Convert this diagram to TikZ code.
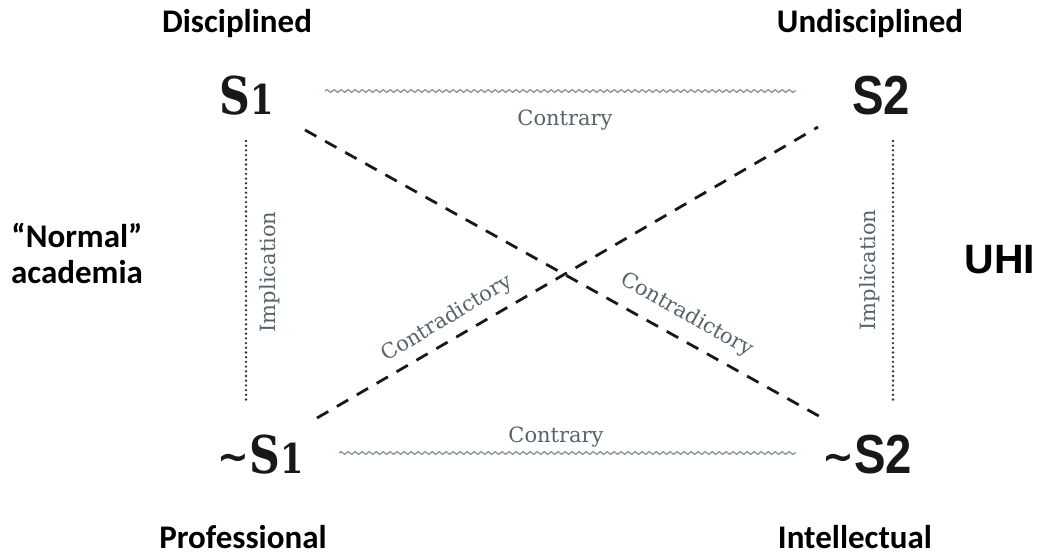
\documentclass[tikz,border=0pt]{standalone}
\usepackage{fontspec}
\setmainfont{DejaVu Serif}
\newfontfamily\headfont{Carlito}
\newfontfamily\slabfont{DejaVu Serif}
\newfontfamily\grotfont{Liberation Sans}
\newfontfamily\tildefont{DejaVu Sans}
\usetikzlibrary{decorations.pathmorphing}
\definecolor{labelgrey}{HTML}{56646A}
\definecolor{wavegrey}{HTML}{85979B}
\definecolor{inkdark}{HTML}{181818}
% condensed renderings of the term letters
\newcommand{\slabterm}[1]{\scalebox{0.82}[1]{\slabfont\bfseries\fontsize{52}{52}\selectfont S}%
  \scalebox{0.82}[1]{\slabfont\bfseries\fontsize{41}{41}\selectfont #1}}
\newcommand{\grotterm}[1]{\scalebox{0.86}[1]{\grotfont\bfseries\fontsize{55}{55}\selectfont S#1}}
\newcommand{\negmark}{\raisebox{0.25em}{\scalebox{0.95}[1]{\tildefont\bfseries\fontsize{40}{40}\selectfont\char`\~}}}
\tikzset{
  heading/.style={font=\headfont\bfseries\fontsize{33}{38}\selectfont, text=black, inner sep=0pt, anchor=base},
  term/.style={text=inkdark, inner sep=0pt, anchor=base},
  rel/.style={font=\slabfont\fontsize{21}{22}\selectfont, text=labelgrey, inner sep=0pt},
  contrary/.style={draw=wavegrey, line width=1.3pt, decorate,
    decoration={snake, amplitude=1.4pt, segment length=7pt}},
  implication/.style={draw=inkdark!90, line width=2.6pt, line cap=round,
    dash pattern=on 0pt off 4.7pt},
  contradiction/.style={draw=inkdark, line width=2.8pt, dash pattern=on 13pt off 10pt}
}
\begin{document}
\begin{tikzpicture}[x=1pt, y=-1pt]
  \useasboundingbox (0,0) rectangle (1038,556);

  % corner terms of the square
  \node[term] (S1)  at (247,115) {\slabterm{1}};
  \node[term] (S2)  at (881,115) {\grotterm{2}};
  \node[term] (nS1) at (261,473) {\negmark\slabterm{1}};
  \node[term] (nS2) at (867,473) {\negmark\grotterm{2}};

  % headings
  \node[heading] (disc)   at (237,33)  {Disciplined};
  \node[heading] (undisc) at (870,33)  {Undisciplined};
  \node[heading] (prof)   at (243,548) {Professional};
  \node[heading] (intel)  at (855,548) {Intellectual};
  \node[heading] (normal) at (77,247)  {“Normal”};
  \node[heading] (acad)   at (77,283)  {academia};
  \node[font=\grotfont\bfseries\fontsize{41}{42}\selectfont, inner sep=0pt, anchor=base] (uhi) at (1000,273) {UHI};

  % contrary relations
  \coordinate (ct1) at (325,91);  \coordinate (ct2) at (796,91);
  \coordinate (cb1) at (339,453); \coordinate (cb2) at (796,453);
  \path[contrary] (ct1) -- (ct2);
  \path[contrary] (cb1) -- (cb2);
  \node[rel, anchor=base] (contraryT) at (565,126) {Contrary};
  \node[rel, anchor=base] (contraryB) at (556,442) {Contrary};

  % implication relations
  \coordinate (il1) at (246,141); \coordinate (il2) at (246,401);
  \coordinate (ir1) at (893,141); \coordinate (ir2) at (893,401);
  \path[implication] (il1) -- (il2);
  \path[implication] (ir1) -- (ir2);
  \node[rel, rotate=90] (implL) at (270,272) {Implication};
  \node[rel, rotate=90] (implR) at (870,270) {Implication};

  % contradictory relations
  \coordinate (dA1) at (305,130); \coordinate (dA2) at (826,420);
  \coordinate (dB1) at (818,127); \coordinate (dB2) at (317,418);
  \path[contradiction] (dA1) -- (dA2);
  \path[contradiction] (dB2) -- (dB1);
  \node[rel, rotate=31]  (contraL) at (447,319) {Contradictory};
  \node[rel, rotate=-29.5] (contraR) at (687,315) {Contradictory};
\end{tikzpicture}
\end{document}
